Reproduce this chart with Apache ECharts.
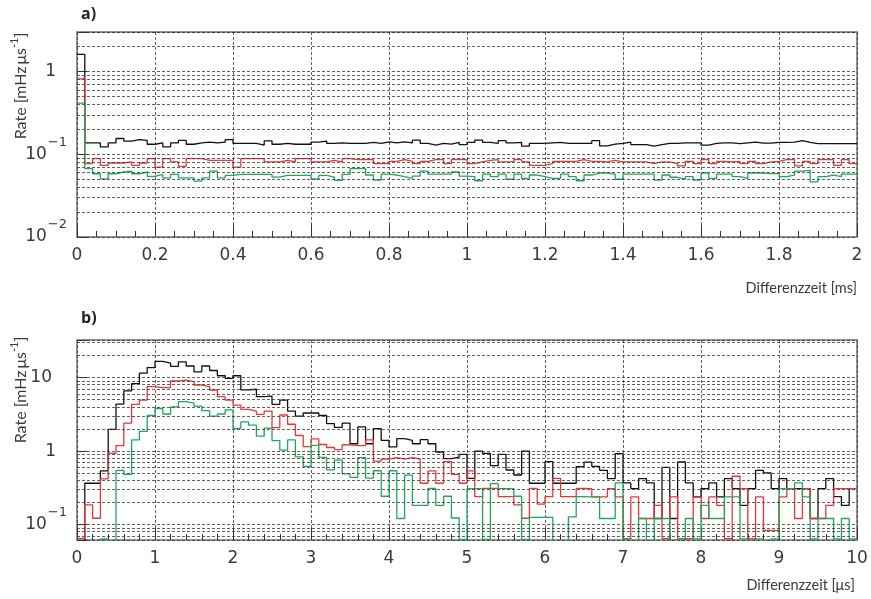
<!DOCTYPE html>
<html>
<head>
<meta charset="utf-8">
<script src="https://cdn.jsdelivr.net/npm/echarts@6/dist/echarts.min.js"></script>
<style>
  html, body { margin: 0; padding: 0; background: #fff; }
  #chart { width: 871px; height: 599px; }
</style>
</head>
<body>
<div id="chart"></div>
<script>
// Rate histograms versus Differenzzeit.
// Panel a): 100 bins of 0.02 ms; panel b): 100 bins of 0.1 µs. 0 marks an empty bin.
const binWidthA = 0.02;
const binWidthB = 0.1;

const histA_black = [
  1.61,
  0.137, 0.137, 0.123, 0.137, 0.155, 0.144, 0.150, 0.147, 0.132, 0.137,
  0.123, 0.137, 0.147, 0.132, 0.137, 0.140, 0.137, 0.140, 0.150, 0.135,
  0.135, 0.135, 0.129, 0.145, 0.132, 0.135, 0.132, 0.132, 0.132, 0.140,
  0.144, 0.135, 0.137, 0.135,
  0.135, 0.135, 0.139, 0.135, 0.141, 0.1375, 0.141, 0.1375, 0.148, 0.135,
  0.129, 0.135, 0.1325, 0.139, 0.131, 0.139, 0.148, 0.139, 0.135, 0.146,
  0.1375, 0.139, 0.125, 0.135, 0.135, 0.1375, 0.139, 0.135, 0.135, 0.135,
  0.135, 0.146, 0.126, 0.1325, 0.135, 0.140, 0.131, 0.131, 0.125, 0.131,
  0.135, 0.135, 0.1375, 0.1375, 0.1375, 0.129, 0.135, 0.1375, 0.1375, 0.134,
  0.1375, 0.140, 0.136, 0.136, 0.139, 0.139, 0.140, 0.146, 0.139, 0.134,
  0.134, 0.134, 0.134, 0.134, 0.134
];
const histA_red = [
  0.815,
  0.0773, 0.0886, 0.0734, 0.0784, 0.0784, 0.0807, 0.0734, 0.0784, 0.0886, 0.070,
  0.0886, 0.0807, 0.0714, 0.0886, 0.0886, 0.0845, 0.0845, 0.0845, 0.0845, 0.070,
  0.0886, 0.0886, 0.0886, 0.0807, 0.0807, 0.0845, 0.0807, 0.0886, 0.0886, 0.0807,
  0.0807, 0.0845, 0.0807, 0.0886,
  0.086, 0.086, 0.086, 0.0769, 0.0769, 0.0822, 0.086, 0.0822, 0.0769, 0.0822,
  0.086, 0.086, 0.0769, 0.086, 0.086, 0.0769, 0.0807, 0.0845, 0.086, 0.0807,
  0.0807, 0.086, 0.0807, 0.0734, 0.0734, 0.0769, 0.0822, 0.0822, 0.0822, 0.086,
  0.0822, 0.0822, 0.0807, 0.0845, 0.0807, 0.0807, 0.0807, 0.0807, 0.0769, 0.0807,
  0.0807, 0.0769, 0.0722, 0.0822, 0.0769, 0.086, 0.0769, 0.0822, 0.0807, 0.0822,
  0.0769, 0.0822, 0.0769, 0.0807, 0.0822, 0.086, 0.086, 0.0722, 0.0822, 0.0769,
  0.086, 0.086, 0.0734, 0.086, 0.0769
];
const histA_green = [
  0.415,
  0.0669, 0.0581, 0.0505, 0.0581, 0.061, 0.0626, 0.0581, 0.061, 0.054, 0.057,
  0.0519, 0.057, 0.0519, 0.0519, 0.0473, 0.0519, 0.0626, 0.0519, 0.0555, 0.057,
  0.057, 0.057, 0.057, 0.057, 0.053, 0.0555, 0.0555, 0.0555, 0.0555, 0.0505,
  0.0555, 0.053, 0.0482, 0.057,
  0.0669, 0.0669, 0.0561, 0.0487, 0.0575, 0.0561, 0.0535, 0.0512, 0.0545, 0.0626,
  0.0575, 0.0575, 0.0575, 0.061, 0.0545, 0.0535, 0.0478, 0.0575, 0.0535, 0.0575,
  0.0499, 0.0575, 0.0512, 0.0561, 0.0535, 0.0512, 0.0512, 0.0575, 0.0535, 0.0478,
  0.0561, 0.0593, 0.0593, 0.0575, 0.0499, 0.0575, 0.0575, 0.0575, 0.0575, 0.0487,
  0.0561, 0.0527, 0.0499, 0.0535, 0.0487, 0.0593, 0.0512, 0.0575, 0.0575, 0.0535,
  0.0512, 0.0593, 0.0593, 0.0584, 0.0584, 0.0535, 0.0561, 0.0626, 0.0638, 0.0464,
  0.0535, 0.0561, 0.0535, 0.0575, 0.0575
];

const histB_black = [
  0, 0.365, 0.365, 0.537, 1.98, 4.37, 6.58, 8.3, 11.5, 13.7,
  16.6, 15.7, 14.2, 16.4, 14.4, 12.0, 14.4, 12.5, 10.6, 9.75,
  10.6, 6.8, 6.95, 5.5, 5.6, 4.33, 4.93, 3.51, 3.0, 3.3,
  3.3, 3.05, 2.37, 2.1, 2.41, 1.26, 2.13, 1.26, 2.02, 1.40,
  1.14, 1.48, 1.40, 1.26, 1.43, 1.26, 0.973, 0.79, 0.83, 0.90,
  0.426, 1.0, 0.93, 0.635, 0.90, 0.553, 0.473, 1.0, 0.365, 0.365,
  0.72, 0.365, 0.365, 0.365, 0.615, 0.71, 0.62, 0.548, 0.423, 0.925,
  0.369, 0.309, 0.423, 0.369, 0.121, 0.6, 0.121, 0.711, 0.369, 0.238,
  0.309, 0.369, 0.238, 0.423, 0.309, 0.183, 0.309, 0.548, 0.504, 0.309,
  0.423, 0.309, 0.309, 0.309, 0.121, 0.309, 0.423, 0.24, 0.183, 0.309
];
const histB_red = [
  0.065, 0.185, 0.122, 0.42, 0.93, 1.19, 2.4, 4.32, 4.95, 7.55,
  7.3, 7.3, 9.0, 9.27, 8.83, 7.93, 7.55, 6.78, 5.51, 4.95,
  4.23, 3.7, 3.51, 3.17, 3.51, 2.09, 3.10, 2.32, 1.63, 1.15,
  1.47, 1.23, 1.12, 1.05, 1.22, 1.19, 1.19, 1.42, 0.73, 0.78,
  0.817, 0.78, 0.817, 0.78, 0.365, 0.537, 0.365, 0.72, 0.483, 0.365,
  0.537, 0.24, 0.312, 0.312, 0.24, 0.24, 0.185, 0.122, 0.312, 0.19,
  0.24, 0.426, 0.24, 0.24, 0.312, 0.309, 0.238, 0.238, 0.309, 0.238,
  0.0645, 0.238, 0.121, 0.121, 0.183, 0.0645, 0.238, 0.0645, 0.0645, 0.238,
  0.121, 0.238, 0.183, 0.0645, 0.455, 0.309, 0.0645, 0.238, 0.0835, 0.0835,
  0.238, 0.309, 0.121, 0.309, 0.121, 0.121, 0.183, 0.309, 0.309, 0.309
];
const histB_green = [
  0, 0, 0, 0.064, 0, 0.548, 0.483, 1.42, 1.85, 3.05,
  3.8, 3.2, 4.0, 4.7, 4.5, 4.1, 3.55, 3.0, 3.2, 3.65,
  2.03, 2.5, 2.25, 1.6, 2.05, 1.39, 1.03, 1.42, 0.835, 0.62,
  1.2, 0.82, 0.555, 0.755, 0.49, 0.44, 0.815, 0.43, 0.54, 0.243,
  0.54, 0.121, 0.47, 0.183, 0.183, 0.31, 0.183, 0.243, 0.123, 0.063,
  0.308, 0.308, 0.063, 0.36, 0.308, 0.308, 0.243, 0.063, 0.125, 0.125,
  0.125, 0, 0, 0.127, 0.24, 0.238, 0.238, 0.121, 0.121, 0.369,
  0.064, 0, 0.121, 0, 0.121, 0.121, 0, 0.064, 0.121, 0.064,
  0.183, 0.121, 0.121, 0.238, 0.238, 0.064, 0, 0.064, 0, 0.064,
  0.309, 0.309, 0.369, 0.238, 0.064, 0.121, 0.121, 0.064, 0.121, 0.064
];

// axis ranges
const xMaxA = 2, xStepA = 0.2;
const xMaxB = 10, xStepB = 1;
const yRangeA = [0.01, 3.0];
const yRangeB = [0.0617, 32.5];

const COLORS = { black: '#111111', red: '#ea3539', green: '#1ea85a' };
const GRID_LINE = { type: [3, 2], color: '#3a3a3a', width: 0.8 };
const TEXT_COLOR = '#3a3a3a';
const TICK_FONT = 'DejaVu Sans';
const TITLE_FONT = 'Lato';
const EMPTY_FLOOR = 1e-4;   // empty bins drop below the visible range

// left bin edges plus the closing right edge, for a step outline
function histogramPoints(values, width) {
  const pts = values.map((v, i) => [+(i * width).toFixed(4), v > 0 ? v : EMPTY_FLOOR]);
  pts.push([+(values.length * width).toFixed(4), pts[pts.length - 1][1]]);
  return pts;
}

// log-grid positions 2..9 x decade inside a range
function logMinorLines(range) {
  const out = [];
  for (let e = -3; e <= 2; e++) {
    for (let m = 2; m <= 9; m++) {
      const v = +(m * Math.pow(10, e)).toPrecision(6);
      if (v > range[0] && v <= range[1] + 1e-9) out.push({ yAxis: v });
    }
  }
  return out;
}

function decadeLabel(v) {
  const lg = Math.log10(v);
  const e = Math.round(lg);
  if (Math.abs(lg - e) > 1e-6) return '';
  if (e === 0) return '{b|1}{sp1| }';
  if (e === 1) return '{b|10}{sp2| }';
  return '{b|10}{s|\u2212' + (-e) + '}';
}

const labelRich = {
  b: { fontSize: 17, fontFamily: TICK_FONT, color: TEXT_COLOR },
  s: { fontSize: 13, fontFamily: TICK_FONT, color: TEXT_COLOR, padding: [0, 0, 24, 1] },
  sp1: { width: 11 },
  sp2: { width: 15 }
};

function xAxisCfg(gridIndex, max, step, minorSplit) {
  return {
    gridIndex, type: 'value', min: 0, max, interval: step,
    axisLine: { show: false },
    axisTick: { show: true, inside: true, length: 12, lineStyle: { color: '#333', width: 1 } },
    minorTick: { show: true, splitNumber: minorSplit, length: 6, lineStyle: { color: '#333', width: 1 } },
    splitLine: { show: true, lineStyle: GRID_LINE },
    axisLabel: { margin: 10, fontSize: 17, fontFamily: TICK_FONT, color: TEXT_COLOR }
  };
}

function yAxisCfg(gridIndex, range) {
  return {
    gridIndex, type: 'log', logBase: 10, min: range[0], max: range[1],
    axisLine: { show: false },
    axisTick: { show: true, inside: true, length: 10, lineStyle: { color: '#333' } },
    splitLine: { show: true, lineStyle: GRID_LINE },
    axisLabel: { margin: 10, formatter: decadeLabel, rich: labelRich, showMinLabel: true, showMaxLabel: true }
  };
}

function histSeries(name, values, width, color, idx) {
  return {
    name, type: 'line', step: 'end', xAxisIndex: idx, yAxisIndex: idx,
    data: histogramPoints(values, width),
    symbol: 'none', showSymbol: false, clip: true, z: 3,
    lineStyle: { color, width: 1.3 }, silent: true
  };
}

function gridLineSeries(idx, range) {
  return {
    type: 'line', xAxisIndex: idx, yAxisIndex: idx, data: [], z: 1, silent: true,
    markLine: {
      silent: true, symbol: 'none', label: { show: false }, animation: false,
      lineStyle: GRID_LINE, emphasis: { disabled: true },
      data: logMinorLines(range)
    }
  };
}

function yTitle(cx, cy) {
  return {
    type: 'text', x: cx, y: cy, rotation: Math.PI / 2, silent: true,
    style: {
      text: '{t|Rate [mHz\u2009\u03bcs}{u|-1}{t|]}',
      align: 'center', verticalAlign: 'middle',
      rich: {
        t: { fontSize: 16, fontFamily: TITLE_FONT, fill: TEXT_COLOR },
        u: { fontSize: 11, fontFamily: TITLE_FONT, fill: TEXT_COLOR, padding: [0, 0, 13, 0] }
      }
    }
  };
}

const chart = echarts.init(document.getElementById('chart'), null, { renderer: 'canvas' });
chart.setOption({
  animation: false,
  backgroundColor: '#ffffff',
  grid: [
    { left: 77, top: 32, width: 780, height: 205, show: true, borderColor: '#707070', borderWidth: 1.5, backgroundColor: 'transparent' },
    { left: 77, top: 340, width: 780, height: 200, show: true, borderColor: '#707070', borderWidth: 1.5, backgroundColor: 'transparent' }
  ],
  xAxis: [xAxisCfg(0, xMaxA, xStepA, 4), xAxisCfg(1, xMaxB, xStepB, 5)],
  yAxis: [yAxisCfg(0, yRangeA), yAxisCfg(1, yRangeB)],
  series: [
    gridLineSeries(0, yRangeA),
    gridLineSeries(1, yRangeB),
    histSeries('a schwarz', histA_black, binWidthA, COLORS.black, 0),
    histSeries('a rot', histA_red, binWidthA, COLORS.red, 0),
    histSeries('a grün', histA_green, binWidthA, COLORS.green, 0),
    histSeries('b schwarz', histB_black, binWidthB, COLORS.black, 1),
    histSeries('b rot', histB_red, binWidthB, COLORS.red, 1),
    histSeries('b grün', histB_green, binWidthB, COLORS.green, 1)
  ],
  graphic: [
    { type: 'text', left: 81, top: 6, silent: true, style: { text: 'a)', font: 'bold 16px "Open Sans"', fill: '#222' } },
    { type: 'text', left: 81, top: 310, silent: true, style: { text: 'b)', font: 'bold 16px "Open Sans"', fill: '#222' } },
    yTitle(21, 86),
    yTitle(21, 390),
    { type: 'text', right: 14, top: 281, silent: true, style: { text: 'Differenzzeit [ms]', font: '14.5px Lato', fill: TEXT_COLOR } },
    { type: 'text', right: 16, top: 578, silent: true, style: { text: 'Differenzzeit [\u03bcs]', font: '14.5px Lato', fill: TEXT_COLOR } }
  ]
});
</script>
</body>
</html>
